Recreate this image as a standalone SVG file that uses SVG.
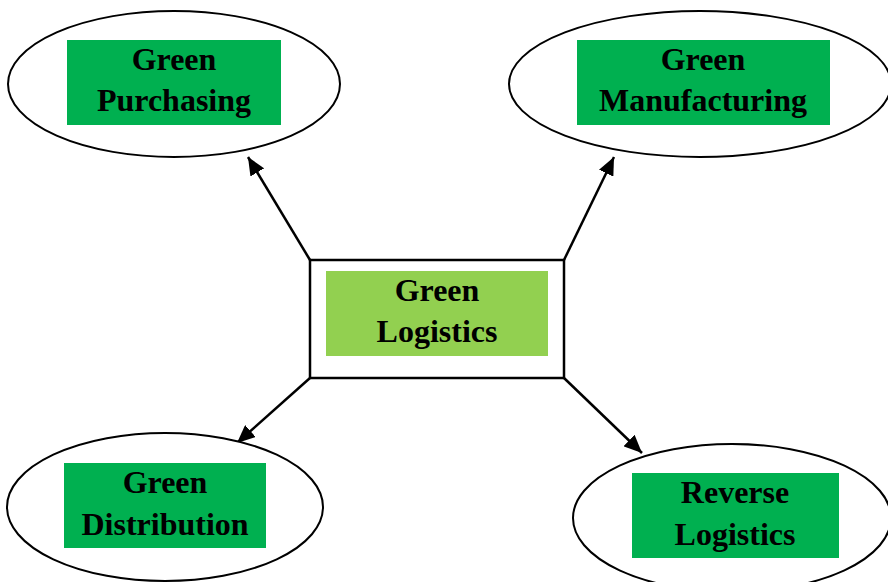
<svg xmlns="http://www.w3.org/2000/svg" width="888" height="582" viewBox="0 0 888 582">
  <style>
    .oval { fill: #fff; stroke: #000; stroke-width: 2; }
    .box { fill: #00B050; }
    .core { fill: #92D050; }
    .frame { fill: #fff; stroke: #000; stroke-width: 2.5; }
    .lbl { font-family: "Liberation Serif", "Times New Roman", serif; font-weight: bold; font-size: 32px; fill: #000; text-anchor: middle; }
    .arrow { stroke: #000; stroke-width: 2.5; fill: none; marker-end: url(#head); }
  </style>
  <defs>
    <marker id="head" markerUnits="userSpaceOnUse" markerWidth="20" markerHeight="16" refX="18" refY="8" orient="auto">
      <path d="M0,0 L18,8 L0,16 Z" fill="#000"/>
    </marker>
  </defs>
  <rect width="888" height="582" fill="#fff"/>

  <g id="connectors">
    <line class="arrow" x1="310" y1="260" x2="248" y2="157"/>
    <line class="arrow" x1="564" y1="260" x2="614" y2="157"/>
    <line class="arrow" x1="310" y1="378" x2="237" y2="443"/>
    <line class="arrow" x1="564" y1="378" x2="642" y2="453"/>
  </g>

  <g id="green-purchasing">
    <ellipse class="oval" cx="174" cy="84" rx="166" ry="73"/>
    <rect class="box" x="67" y="40" width="214" height="85"/>
    <text class="lbl" x="174" y="70">Green</text>
    <text class="lbl" x="174" y="111">Purchasing</text>
  </g>

  <g id="green-manufacturing">
    <ellipse class="oval" cx="700" cy="84" rx="191" ry="73"/>
    <rect class="box" x="577" y="40" width="253" height="85"/>
    <text class="lbl" x="703" y="70">Green</text>
    <text class="lbl" x="703" y="111">Manufacturing</text>
  </g>

  <g id="green-logistics">
    <rect class="frame" x="310" y="260" width="254" height="118"/>
    <rect class="core" x="326" y="271" width="222" height="85"/>
    <text class="lbl" x="437" y="301">Green</text>
    <text class="lbl" x="437" y="342">Logistics</text>
  </g>

  <g id="green-distribution">
    <ellipse class="oval" cx="165" cy="507" rx="158" ry="74"/>
    <rect class="box" x="64" y="463" width="202" height="85"/>
    <text class="lbl" x="165" y="493">Green</text>
    <text class="lbl" x="165" y="535">Distribution</text>
  </g>

  <g id="reverse-logistics">
    <ellipse class="oval" cx="732" cy="518" rx="159" ry="74"/>
    <rect class="box" x="632" y="473" width="207" height="85"/>
    <text class="lbl" x="735" y="503">Reverse</text>
    <text class="lbl" x="735" y="545">Logistics</text>
  </g>
</svg>
